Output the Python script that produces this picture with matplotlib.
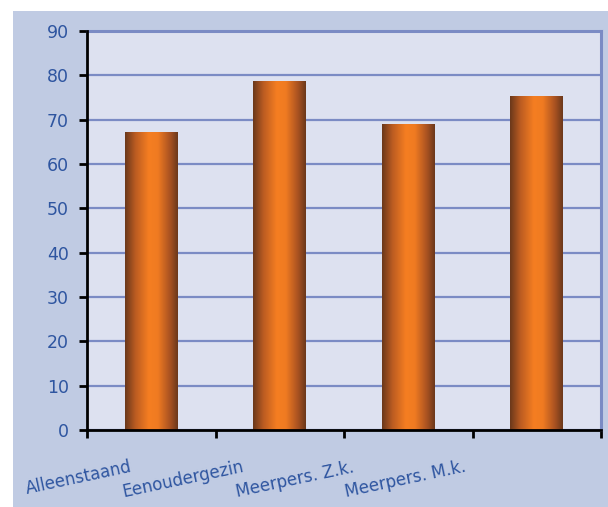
import matplotlib
matplotlib.use("Agg")
import matplotlib.pyplot as plt
import numpy as np
from matplotlib.colors import LinearSegmentedColormap
from matplotlib.patches import Rectangle
from matplotlib.transforms import blended_transform_factory

categories = ["Alleenstaand", "Eenoudergezin", "Meerpers. Z.k.", "Meerpers. M.k."]
values = [67.2, 78.5, 68.8, 75.3]
yticks = [0, 10, 20, 30, 40, 50, 60, 70, 80, 90]

fig = plt.figure(figsize=(6.08, 5.07), dpi=100)
fig.patch.set_facecolor("white")
# outer blue chart area
fig.patches.append(Rectangle((13/608, 0), 1, 1 - 11/507, transform=fig.transFigure,
                             facecolor="#C0CBE3", edgecolor="none", zorder=-10))

ax = fig.add_axes([87/608, 1 - 430/507, (601 - 87)/608, (430 - 31)/507])
ax.set_facecolor("#DDE1F0")

x = np.arange(len(categories))
bars = ax.bar(x, values, width=0.41, color="none", zorder=3)

cmap = LinearSegmentedColormap.from_list(
    "cyl", [(0.0, "#6A381B"), (0.2, "#BC5C22"), (0.45, "#F57E21"),
            (0.62, "#F07B22"), (0.85, "#A95221"), (1.0, "#6B381B")])
grad = np.linspace(0, 1, 256).reshape(1, -1)
for b in bars:
    x0, y0 = b.get_x(), b.get_y()
    w, h = b.get_width(), b.get_height()
    ax.imshow(grad, cmap=cmap, aspect="auto", extent=(x0, x0 + w, y0, y0 + h),
              zorder=3, interpolation="bilinear")

ax.set_xlim(-0.5, len(categories) - 0.5)
ax.set_ylim(0, 90)
ax.set_yticks(yticks)
ax.set_yticklabels([str(v) for v in yticks])
ax.yaxis.grid(True, color="#7B8BC4", linewidth=1.6, zorder=1)
ax.set_axisbelow(True)

ax.set_xticks(np.arange(-0.5, len(categories), 1.0))
ax.set_xticklabels([])

for s in ["left", "bottom"]:
    ax.spines[s].set_color("black")
    ax.spines[s].set_linewidth(2.0)
    ax.spines[s].set_zorder(5)
for s in ["top", "right"]:
    ax.spines[s].set_color("#7B8BC4")
    ax.spines[s].set_linewidth(2.2)

ax.tick_params(axis="y", direction="out", length=6, width=2, color="black",
               labelcolor="#2E55A0", labelsize=12.5, pad=7)
ax.tick_params(axis="x", direction="out", length=6, width=2, color="black")

trans = blended_transform_factory(ax.transData, ax.transAxes)
offsets = [-0.17, -0.30, -0.44, -0.57]
for i, (lab, off) in enumerate(zip(categories, offsets)):
    ax.text(i + off, -0.07, lab, transform=trans, rotation=12, rotation_mode="anchor",
            ha="right", va="top", color="#2E55A0", fontsize=12)

fig.savefig("out.png", dpi=100, facecolor=fig.get_facecolor())
